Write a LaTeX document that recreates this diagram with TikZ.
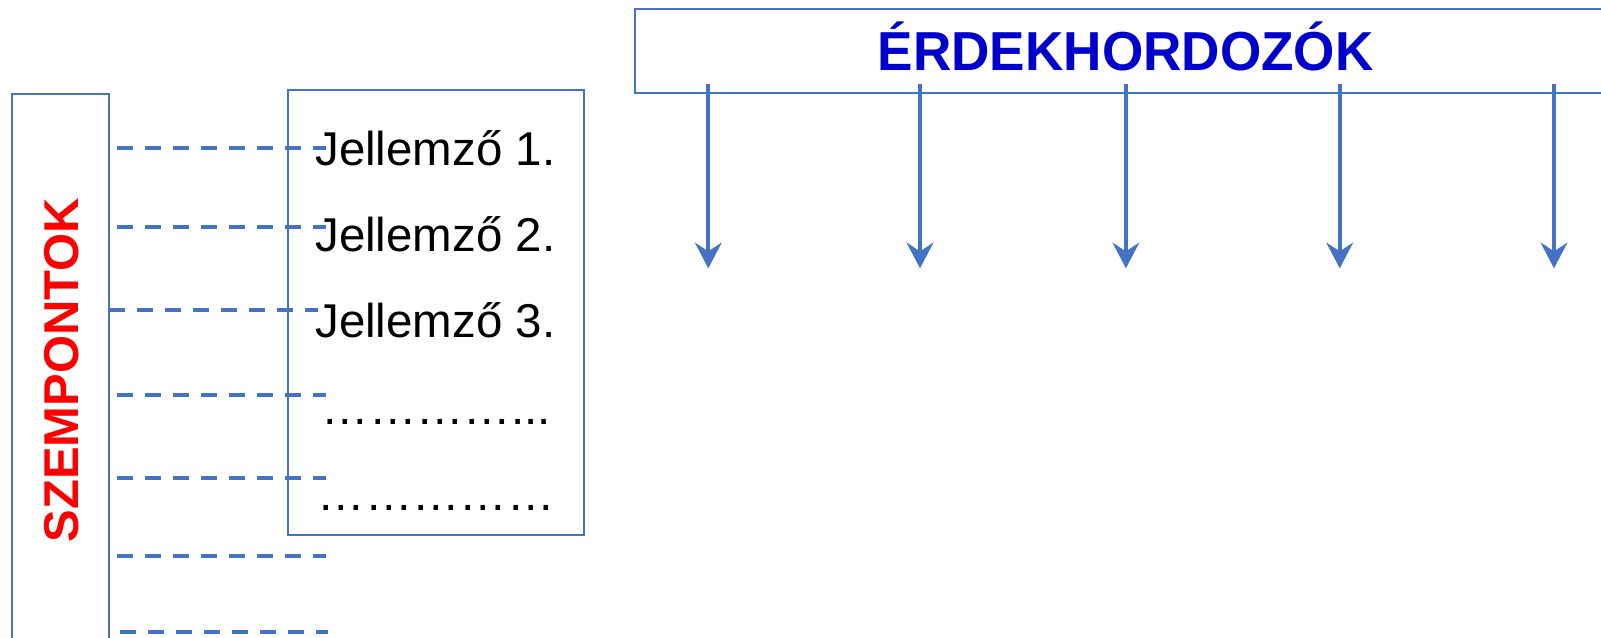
\documentclass[tikz,border=0pt]{standalone}
\usepackage{fontspec}
\setmainfont{Liberation Sans}
\usetikzlibrary{arrows.meta,fit}
\definecolor{lineblue}{HTML}{4472C4}
\definecolor{titleblue}{HTML}{0000CC}
\definecolor{aspectred}{HTML}{FF0000}
\tikzset{
  frame/.style={draw=lineblue, line width=1.5pt, inner sep=0pt},
  guide/.style={draw=lineblue, line width=2.9pt, dash pattern=on 12pt off 9pt},
  flow/.style={draw=lineblue, line width=3.2pt,
    -{Stealth[length=19.2pt, width=20pt, inset=6.5pt]}},
  item/.style={anchor=base west, inner sep=0pt, font=\fontsize{35.6pt}{40pt}\selectfont},
}
\begin{document}
\begin{tikzpicture}[x=0.75pt, y=-0.75pt]
  \clip (0,0) rectangle (1601,637);

  % frames
  \node[frame, fit={(634.7,9.3) (1650,93.3)}] (stake) {};
  \node[frame, fit={(12.3,93.7) (109.3,700)}] (aspects) {};
  \node[frame, fit={(288,90) (584.3,535)}] (traits) {};

  % headings
  \node[anchor=base, inner sep=0pt, text=titleblue,
        font=\fontsize{41.2pt}{44pt}\selectfont\bfseries]
    (stitle) at (1125.7,70) {\scalebox{0.967}[1]{ÉRDEKHORDOZÓK}};
  \node[anchor=base, inner sep=0pt, rotate=90, text=aspectred,
        font=\fontsize{36.7pt}{40pt}\selectfont\bfseries]
    (atitle) at (78.3,370) {SZEMPONTOK};

  % list of characteristics
  \node[item] (t1) at (315,165) {Jellemző 1.};
  \node[item] (t2) at (315,251.7) {Jellemző 2.};
  \node[item] (t3) at (315,337) {Jellemző 3.};
  \node[item] (t4) at (321.3,424) {…………...};
  \node[item] (t5) at (317.3,510.7) {……………};

  % dashed guide lines from the aspect column
  \foreach \y/\s/\e in {148.3/117.3/326, 227.3/117.3/326, 310/109.3/318.3,
                        395/117.3/326, 478/117.3/326, 556.3/117.3/326, 632.3/120/328} {
    \coordinate (gs) at (\s,\y);
    \coordinate (ge) at (\e,\y);
    \draw[guide] (gs) -- (ge);
  }

  % arrows from the stakeholder bar
  \foreach \x [count=\i] in {708.3,920,1125.9,1339.7,1554} {
    \coordinate (s\i) at (\x,84);
    \coordinate (e\i) at (\x,268.3);
    \draw[flow] (s\i) -- (e\i);
  }
\end{tikzpicture}
\end{document}
